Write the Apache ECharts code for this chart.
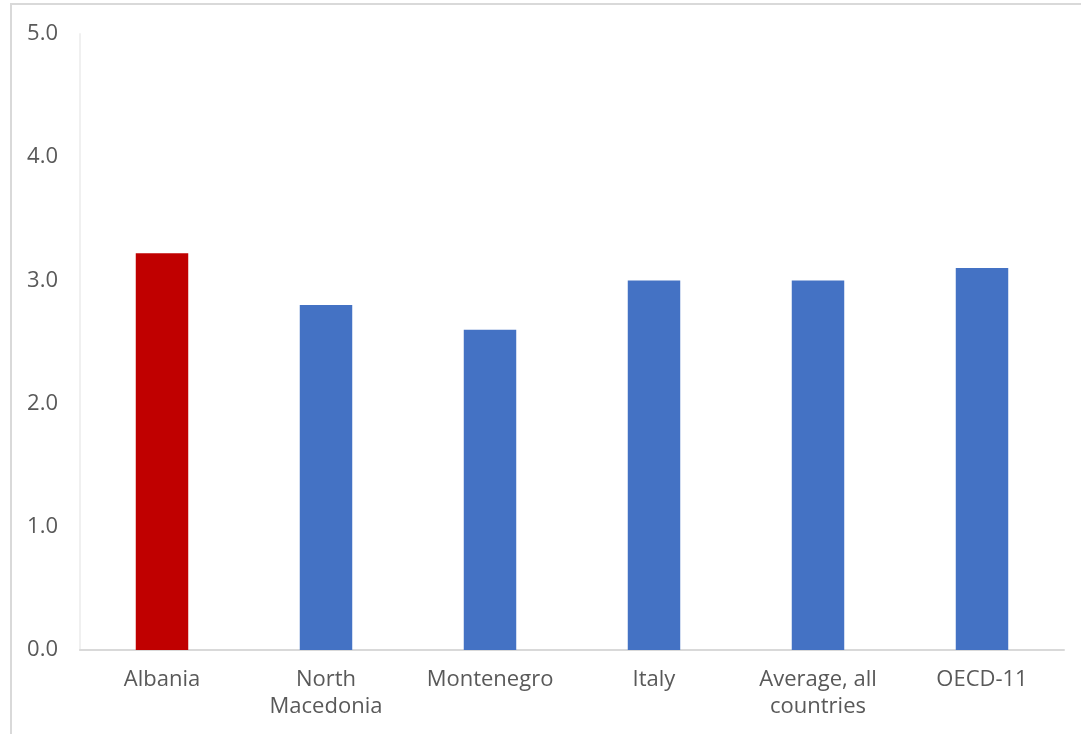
<!DOCTYPE html>
<html>
<head>
<meta charset="utf-8">
<script src="https://cdn.jsdelivr.net/npm/echarts@6/dist/echarts.min.js"></script>
<style>
  html, body { margin: 0; padding: 0; background: #fff; }
  #chart { width: 1081px; height: 734px; }
</style>
</head>
<body>
<div id="chart"></div>
<script>
// Category labels along the x axis
const categories = ['Albania', 'North\nMacedonia', 'Montenegro', 'Italy', 'Average, all\ncountries', 'OECD-11'];
// Bar values
const values = [3.22, 2.8, 2.6, 3.0, 3.0, 3.1];
// Which bar is highlighted
const highlightIndex = 0;

const FONT = 'Open Sans';
const chart = echarts.init(document.getElementById('chart'), null, { renderer: 'canvas' });

chart.setOption({
  backgroundColor: '#ffffff',
  animation: false,
  graphic: [{
    type: 'rect',
    shape: { x: 11, y: 4, width: 1200, height: 1000 },
    style: { fill: 'none', stroke: '#d9d9d9', lineWidth: 2 },
    silent: true
  }],
  grid: { left: 80, right: 17, top: 34, bottom: 84 },
  xAxis: {
    type: 'category',
    data: categories,
    axisLine: { show: true, lineStyle: { color: '#d9d9d9', width: 2 } },
    axisTick: { show: false },
    axisLabel: {
      color: '#595959', fontFamily: FONT, fontSize: 22, lineHeight: 27,
      margin: 16, interval: 0
    }
  },
  yAxis: {
    type: 'value',
    min: 0, max: 5, interval: 1,
    axisLine: { show: true, lineStyle: { color: '#f0f0f0', width: 2 } },
    axisTick: { show: false },
    splitLine: { show: false },
    axisLabel: {
      color: '#595959', fontFamily: FONT, fontSize: 22, margin: 22,
      formatter: v => v.toFixed(1)
    }
  },
  series: [{
    type: 'bar',
    barWidth: '32%',
    data: values.map((v, i) => ({
      value: v,
      itemStyle: { color: i === highlightIndex ? '#C00000' : '#4472C4' }
    }))
  }]
});
</script>
</body>
</html>
